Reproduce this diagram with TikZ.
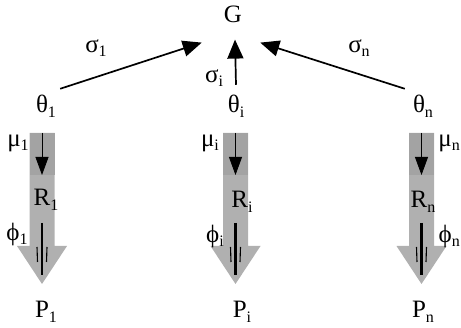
\documentclass[tikz,border=0pt]{standalone}
\usepackage{fontspec}
\setmainfont{Liberation Serif}
\usetikzlibrary{arrows.meta}
\newcommand\symsub[2]{#1\raisebox{-0.4ex}{\fontsize{16}{16}\selectfont #2}}
\begin{document}
\begin{tikzpicture}[x=1pt,y=-1pt,
  txt/.style={inner sep=0pt,font=\fontsize{25}{25}\selectfont},
  link/.style={line width=1.7pt,-{Triangle[length=19pt,width=16pt]}},
  body/.style={fill=gray!62},
  band/.style={fill=gray!72}]
\useasboundingbox (0,0) rectangle (461,328);
\foreach \c in {42,235.5,421.5}{
  \fill[body] (\c-12.5,133) -- (\c+12.5,133) -- (\c+12.5,246) -- (\c+25,246) -- (\c,284)
    -- (\c-25,246) -- (\c-12.5,246) -- cycle;
  \fill[band] (\c-12.5,133) rectangle (\c+12.5,175);
  \draw[line width=0.8pt,-{Triangle[length=18pt,width=13pt]}] (\c,133) -- (\c,175);
  \draw[line width=2.4pt] (\c,223) -- (\c,275);
  \draw[line width=1.1pt] (\c-5,247) -- (\c-4.5,262) (\c+5,247) -- (\c+4.5,262);
}
\node[txt] (G) at (233,14) {G};
\node[txt] (t1) at (46,106) {\symsub{θ}{1}};
\node[txt] (ti) at (236,106) {\symsub{θ}{i}};
\node[txt] (tn) at (423,106) {\symsub{θ}{n}};
\node[txt] (s1) at (96,48) {\symsub{σ}{1}};
\node[txt] (si) at (214,78) {\symsub{σ}{i}};
\node[txt] (sn) at (359,48) {\symsub{σ}{n}};
\draw[link] ([xshift=4pt,yshift=6pt]t1.north east) -- ([xshift=-22pt,yshift=-20pt]G.south west);
\draw[link] ([yshift=10pt]ti.north) -- ([xshift=2pt,yshift=-17pt]G.south);
\draw[link] ([xshift=-8pt,yshift=6pt]tn.north west) -- ([xshift=18pt,yshift=-20pt]G.south east);
\node[txt] (m1) at (18,143) {\symsub{μ}{1}};
\node[txt] (mi) at (210,143) {\symsub{μ}{i}};
\node[txt,anchor=east] (mn) at (460,143) {\symsub{μ}{n}};
\node[txt] (r1) at (46,200) {\symsub{R}{1}};
\node[txt] (ri) at (242,202) {\symsub{R}{i}};
\node[txt] (rn) at (423,202) {\symsub{R}{n}};
\node[txt] (f1) at (17,234) {\symsub{ϕ}{1}};
\node[txt] (fi) at (215,236) {\symsub{ϕ}{i}};
\node[txt,anchor=east] (fn) at (460,236) {\symsub{ϕ}{n}};
\node[txt] (p1) at (46,312) {\symsub{P}{1}};
\node[txt] (pi) at (242,312) {\symsub{P}{i}};
\node[txt] (pn) at (423,312) {\symsub{P}{n}};
\end{tikzpicture}
\end{document}
